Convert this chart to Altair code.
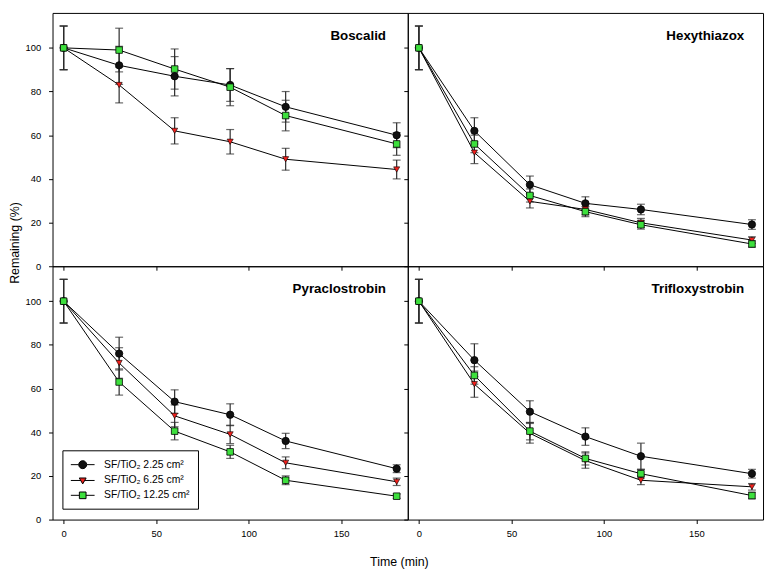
import altair as alt
import pandas as pd

# ---------------- data ----------------
times = [0, 30, 60, 90, 120, 180]
compounds = ["Boscalid", "Hexythiazox", "Pyraclostrobin", "Trifloxystrobin"]
series = ["SF/TiO\u2082 2.25 cm\u00b2", "SF/TiO\u2082 6.25 cm\u00b2", "SF/TiO\u2082 12.25 cm\u00b2"]

bos_225 = [100, 92, 87, 83, 73, 60]
bos_225_err = [10, 8.7, 9, 7.5, 7, 5.7]
bos_625 = [100, 83, 62, 57, 49, 44.3]
bos_625_err = [10, 8.2, 6, 5.6, 5, 4.3]
bos_1225 = [100, 99, 90.3, 82, 69, 56]
bos_1225_err = [10, 10, 9.2, 8.5, 7, 5.2]

hex_225 = [100, 62, 37.3, 28.8, 26, 19.1]
hex_225_err = [10, 6, 4, 3, 2.4, 2.2]
hex_625 = [100, 52, 29.7, 26, 19.9, 12]
hex_625_err = [10, 5, 3, 2.5, 2, 1.5]
hex_1225 = [100, 56, 32.4, 25, 19, 10.2]
hex_1225_err = [10, 4, 3, 2.3, 2, 1.5]

pyr_225 = [100, 76, 54, 48, 36, 23.3]
pyr_225_err = [10, 7.5, 5.4, 5, 3.5, 1.8]
pyr_625 = [100, 71.7, 47.5, 39, 26, 17.3]
pyr_625_err = [10, 7, 5, 4.2, 2.7, 1.7]
pyr_1225 = [100, 63, 40.5, 31, 18, 10.7]
pyr_1225_err = [10, 6, 4, 3, 2, 1]

tri_225 = [100, 73, 49.4, 38, 29, 21]
tri_225_err = [10, 7.5, 5, 4, 6, 2]
tri_625 = [100, 62, 39.5, 27, 18, 15]
tri_625_err = [10, 6, 4.5, 3.5, 2, 1.5]
tri_1225 = [100, 66, 40.5, 28, 21, 11]
tri_1225_err = [10, 4, 4, 3, 2, 1.5]

means = {
    "Boscalid": [bos_225, bos_625, bos_1225],
    "Hexythiazox": [hex_225, hex_625, hex_1225],
    "Pyraclostrobin": [pyr_225, pyr_625, pyr_1225],
    "Trifloxystrobin": [tri_225, tri_625, tri_1225],
}
errs = {
    "Boscalid": [bos_225_err, bos_625_err, bos_1225_err],
    "Hexythiazox": [hex_225_err, hex_625_err, hex_1225_err],
    "Pyraclostrobin": [pyr_225_err, pyr_625_err, pyr_1225_err],
    "Trifloxystrobin": [tri_225_err, tri_625_err, tri_1225_err],
}

rows = []
for c in compounds:
    for s, m, e in zip(series, means[c], errs[c]):
        for t, v, d in zip(times, m, e):
            rows.append({"compound": c, "series": s, "time": t,
                         "mean": v, "lo": v - d, "hi": v + d})
df = pd.DataFrame(rows)

# ---------------- styles ----------------
marker_shapes = ["circle", "triangle-down", "square"]
marker_fills = ["#111111", "#f0201c", "#3ddf3d"]
marker_strokes = ["black", "black", "black"]
marker_sizes = [55, 38, 44]
marker_stroke_w = [0.8, 0.6, 0.8]
# legend symbols: line segment + marker (unit coords, scaled by sqrt(size)/2)
legend_paths = [
    "M-2,0H-0.67M0.67,0H2M-0.67,0A0.67,0.67,0,1,0,0.67,0A0.67,0.67,0,1,0,-0.67,0Z",
    "M-2,0H-0.34M0.34,0H2M-0.58,-0.42L0.58,-0.42L0,0.58Z",
    "M-2,0H-0.56M0.56,0H2M-0.56,-0.56H0.56V0.56H-0.56Z",
]

W, H = 359, 256
FONT = "Liberation Sans"
ERR = "#2b2b2b"


def panel(comp, left, bottom, legend, label_dx):
    base = alt.Chart(df).transform_filter(alt.datum.compound == comp)

    xa = dict(values=[0, 50, 100, 150], domain=False, grid=False, ticks=True,
              tickSize=4, tickColor="black", tickWidth=1, labels=bottom,
              labelFont=FONT, labelFontSize=9.5, labelColor="black", labelPadding=5,
              title=None)
    if bottom and left:
        xa.update(title="Time (min)", titleFont=FONT, titleFontSize=12.5,
                  titleFontWeight="normal", titleColor="black",
                  titleX=350, titleY=36)
    ya = dict(values=[0, 20, 40, 60, 80, 100], domain=False, grid=False, ticks=True,
              tickSize=4, tickColor="black", tickWidth=1, labels=left,
              labelFont=FONT, labelFontSize=9.5, labelColor="black", labelPadding=8,
              title=None)
    if left and not bottom:
        ya.update(title="Remaining (%)", titleFont=FONT, titleFontSize=12.5,
                  titleFontWeight="normal", titleColor="black",
                  titleX=-31, titleY=232, titleAngle=-90, titleBaseline="bottom")

    xs = alt.Scale(domain=[-6, 186], nice=False, zero=False)
    ys = alt.Scale(domain=[0, 116], nice=False)
    X = lambda f: alt.X(f, type="quantitative", scale=xs, axis=alt.Axis(**xa))
    Y = lambda f: alt.Y(f, type="quantitative", scale=ys, axis=alt.Axis(**ya))

    rules = base.mark_rule(color=ERR, strokeWidth=1.2).encode(
        x=X("time"), y=Y("lo"), y2="hi")
    cap_lo = base.mark_tick(orient="horizontal", size=8, thickness=1.2, color=ERR).encode(
        x=X("time"), y=Y("lo"))
    cap_hi = base.mark_tick(orient="horizontal", size=8, thickness=1.2, color=ERR).encode(
        x=X("time"), y=Y("hi"))
    lines = base.mark_line(color="black", strokeWidth=1).encode(
        x=X("time"), y=Y("mean"), detail="series:N")

    layers = [rules, cap_lo, cap_hi, lines]
    for s, shp, fc, sz, sw in zip(series, marker_shapes, marker_fills,
                                   marker_sizes, marker_stroke_w):
        pts = base.transform_filter(alt.datum.series == s).mark_point(
            shape=shp, filled=True, fill=fc, stroke="black", strokeWidth=sw,
            size=sz, opacity=1).encode(x=X("time"), y=Y("mean"))
        layers.append(pts)

    label = alt.Chart(pd.DataFrame({"compound": [comp]})).mark_text(
        align="right", baseline="middle", font=FONT, fontSize=13.5,
        fontWeight="bold", color="black").encode(
        x=alt.value(W - label_dx), y=alt.value(23), text="compound:N")
    layers.append(label)

    if legend:
        lg = dict(title=None, orient="none", legendX=10, legendY=H + 186,
                  direction="vertical", strokeColor="black", fillColor="white",
                  padding=8, symbolSize=144, symbolStrokeWidth=1, symbolOpacity=1,
                  symbolOffset=6, labelFont=FONT, labelFontSize=10.5,
                  labelColor="black", labelOffset=15, rowPadding=3, cornerRadius=0)
        dummy = alt.Chart(pd.DataFrame({"series": series})).mark_point(
            filled=True, opacity=0, strokeWidth=1).encode(
            fill=alt.Fill("series:N", scale=alt.Scale(domain=series, range=marker_fills),
                          legend=alt.Legend(**lg)),
            stroke=alt.Stroke("series:N", scale=alt.Scale(domain=series, range=marker_strokes),
                              legend=alt.Legend(**lg)),
            shape=alt.Shape("series:N", scale=alt.Scale(domain=series, range=legend_paths),
                            legend=alt.Legend(**lg)))
        layers.append(dummy)

    return alt.layer(*layers).properties(width=W, height=H)


tl = panel("Boscalid", True, False, False, 22)
tr = panel("Hexythiazox", False, False, False, 19)
bl = panel("Pyraclostrobin", True, True, True, 22)
br = panel("Trifloxystrobin", False, True, False, 19)

chart = alt.concat(tl, tr, bl, br, columns=2, spacing=0, bounds="flush").properties(
    padding={"left": 0, "top": 1, "right": 2, "bottom": 0}
).configure_view(stroke="black", strokeWidth=1)

chart.save("out.html", embed_options={"renderer": "svg", "actions": False})
